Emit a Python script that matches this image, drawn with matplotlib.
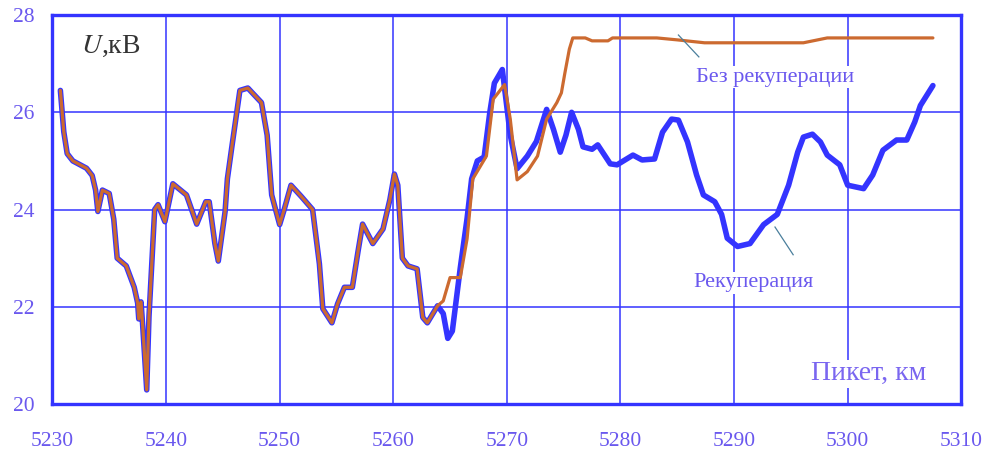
import numpy as np
import matplotlib.pyplot as plt

# Общий участок: обе кривые совпадают (км, кВ)
km_common = [5230.7, 5231.0, 5231.3, 5231.8, 5233.0, 5233.5, 5233.8, 5234.0, 5234.4, 5235.0,
             5235.4, 5235.7, 5236.5, 5237.2, 5237.5, 5237.6, 5237.8, 5237.95, 5238.3, 5238.5,
             5239.0, 5239.3, 5239.9, 5240.6, 5241.8, 5242.7, 5243.5, 5243.8, 5244.3, 5244.6,
             5245.2, 5245.4, 5245.8, 5246.5, 5247.2, 5248.4, 5248.9, 5249.3, 5250.0, 5250.4,
             5251.0, 5251.9, 5252.9, 5253.5, 5253.8, 5254.6, 5255.1, 5255.7, 5256.4, 5256.9,
             5257.3, 5258.2, 5259.1, 5259.7, 5260.1, 5260.4, 5260.8, 5261.3, 5262.1, 5262.6,
             5263.0, 5263.9]
u_common = [26.45, 25.6, 25.15, 25.0, 24.85, 24.7, 24.4, 23.96, 24.4, 24.33,
            23.8, 23.0, 22.84, 22.4, 22.08, 21.75, 22.1, 21.6, 20.29, 21.8,
            24.0, 24.1, 23.75, 24.53, 24.3, 23.7, 24.16, 24.16, 23.3, 22.94,
            23.96, 24.63, 25.3, 26.45, 26.5, 26.2, 25.53, 24.3, 23.69, 24.0,
            24.5, 24.27, 24.0, 22.88, 21.96, 21.67, 22.06, 22.4, 22.4, 23.14,
            23.7, 23.3, 23.6, 24.2, 24.73, 24.5, 23.0, 22.84, 22.78, 21.78,
            21.67, 22.02]

# С рекуперацией
km_rec = [5264.4, 5264.8, 5265.2, 5265.9, 5266.5, 5266.9, 5267.4, 5268.0, 5268.5, 5268.9,
          5269.6, 5270.3, 5270.9, 5271.8, 5272.6, 5273.5, 5274.1, 5274.7, 5275.2, 5275.7,
          5276.3, 5276.7, 5277.5, 5278.0, 5279.1, 5279.7, 5281.1, 5281.9, 5283.0, 5283.7,
          5284.5, 5285.1, 5285.9, 5286.7, 5287.3, 5288.3, 5288.9, 5289.4, 5290.3, 5291.4,
          5292.6, 5293.8, 5294.8, 5295.6, 5296.1, 5296.9, 5297.6, 5298.2, 5299.3, 5300.0,
          5301.4, 5302.2, 5303.1, 5304.3, 5305.2, 5305.9, 5306.4, 5307.5]
u_rec = [21.86, 21.35, 21.5, 22.8, 23.82, 24.63, 25.0, 25.08, 26.0, 26.6,
         26.88, 25.53, 24.84, 25.1, 25.4, 26.06, 25.65, 25.18, 25.53, 26.0,
         25.65, 25.29, 25.24, 25.33, 24.94, 24.92, 25.12, 25.02, 25.04, 25.59,
         25.86, 25.84, 25.39, 24.71, 24.3, 24.16, 23.9, 23.41, 23.24, 23.3,
         23.69, 23.9, 24.5, 25.18, 25.49, 25.55, 25.39, 25.12, 24.92, 24.5,
         24.43, 24.71, 25.22, 25.43, 25.43, 25.8, 26.14, 26.55]

# Без рекуперации
km_norec = [5264.4, 5265.0, 5265.9, 5266.5, 5267.0, 5268.2, 5268.8, 5269.8, 5270.3, 5270.9,
            5271.8, 5272.7, 5273.5, 5274.4, 5274.8, 5275.1, 5275.5, 5275.8, 5276.9, 5277.5,
            5278.9, 5279.3, 5283.2, 5285.0, 5287.4, 5296.1, 5298.2, 5307.5]
u_norec = [22.12, 22.6, 22.6, 23.4, 24.63, 25.1, 26.27, 26.57, 25.86, 24.61,
           24.78, 25.1, 25.86, 26.2, 26.4, 26.8, 27.3, 27.53, 27.53, 27.47,
           27.47, 27.53, 27.53, 27.49, 27.43, 27.43, 27.53, 27.53]

x_ticks = [5230, 5240, 5250, 5260, 5270, 5280, 5290, 5300, 5310]
y_ticks = [20, 22, 24, 26, 28]

blue = '#3434ff'
orange = '#cc6a30'
label_col = '#6a58ee'
serif = 'Liberation Serif'

fig = plt.figure(figsize=(9.89, 4.57), dpi=100)
ax = fig.add_axes([0.053, 0.116, 0.919, 0.851])

ax.plot(km_common + km_rec, u_common + u_rec, color=blue, lw=4.0,
        solid_joinstyle='round', solid_capstyle='round', zorder=3)
ax.plot(km_common + km_norec, u_common + u_norec, color=orange, lw=2.3,
        solid_joinstyle='round', solid_capstyle='round', zorder=4)

ax.set_xlim(5230, 5310)
ax.set_ylim(20, 28)
ax.set_xticks(x_ticks)
ax.set_yticks(y_ticks)
ax.grid(True, color=blue, lw=1.1, zorder=1)
for s in ax.spines.values():
    s.set_color(blue)
    s.set_linewidth(2.4)
    s.set_zorder(5)

ax.tick_params(axis='both', length=0, labelcolor=label_col, labelsize=15.5)
ax.tick_params(axis='x', pad=20)
ax.tick_params(axis='y', pad=13)
for lab in ax.get_xticklabels() + ax.get_yticklabels():
    lab.set_fontfamily(serif)

box = dict(facecolor='white', edgecolor='none', pad=1)

# Подписи кривых с выносками
ax.plot([5285.1, 5286.9], [27.59, 27.14], color='#4a7f9c', lw=0.9, zorder=4)
ax.text(5293.6, 26.72, 'Без рекуперации', family=serif, fontsize=16, color=label_col,
        ha='center', va='center', bbox=box, zorder=2)
ax.plot([5293.6, 5295.2], [23.64, 23.07], color='#4a7f9c', lw=0.9, zorder=4)
ax.text(5291.7, 22.49, 'Рекуперация', family=serif, fontsize=16, color=label_col,
        ha='center', va='center', bbox=box, zorder=2)

ax.text(5301.8, 20.62, 'Пикет, км', family=serif, fontsize=20, color='#7a66f0',
        ha='center', va='center', bbox=box, zorder=2)
ax.text(5232.5, 27.35, '$U$,кВ', family=serif, fontsize=20, color='#333333',
        ha='left', va='center', zorder=2,
        math_fontfamily='stix')

fig.savefig('out.png', dpi=100)
